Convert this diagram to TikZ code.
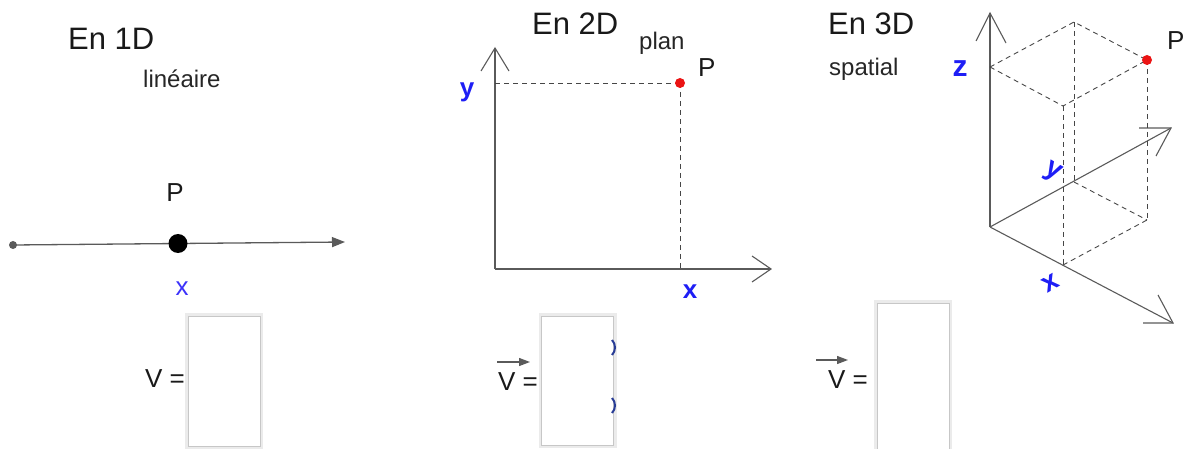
\documentclass[tikz,border=0pt]{standalone}
\usepackage{fontspec}
\setmainfont{Liberation Sans}
\usetikzlibrary{arrows.meta}
\definecolor{axblue}{RGB}{30,30,245}
\definecolor{xblue}{RGB}{60,50,250}
\definecolor{axgray}{RGB}{90,90,90}
\definecolor{dashgray}{RGB}{70,70,70}
\definecolor{pred}{RGB}{235,20,20}
\definecolor{parblue}{RGB}{40,60,150}
\begin{document}
\begin{tikzpicture}[x=1pt,y=-1pt,
  every node/.style={inner sep=0pt},
  title/.style={anchor=base west, font=\fontsize{31}{31}\selectfont, text=black!90},
  subtitle/.style={anchor=base west, font=\fontsize{24}{24}\selectfont, text=black!85},
  plab/.style={anchor=base west, font=\fontsize{26}{26}\selectfont, text=black!90},
  blab/.style={font=\fontsize{26}{26}\selectfont\bfseries, text=axblue},
  axis/.style={draw=axgray, line width=1.1pt},
  head/.style={draw=axgray, line width=1.1pt},
  proj/.style={draw=dashgray, line width=0.9pt, dash pattern=on 5pt off 4pt},
  valbox/.style={draw=black!22, line width=1pt, fill=white, minimum width=72pt,
    preaction={draw=black!8, line width=6pt}},
  vlab/.style={anchor=base east, font=\fontsize{26}{26}\selectfont, text=black!90},
  vec/.style={draw=axgray, line width=1.3pt, -{Triangle[length=11pt,width=8pt]}}
]
\useasboundingbox (0,0) rectangle (1186,449);

% ---------------- 1D ----------------
\node[title] (t1) at (68,50) {En 1D};
\node[subtitle] (s1) at (143,88) {linéaire};
\coordinate (a1) at (13,245);
\coordinate (b1) at (345,242);
\draw[draw=axgray, line width=1.3pt, -{Triangle[length=13pt,width=10pt]}] (a1) -- (b1);
\fill[axgray] (a1) circle (4);
\node[circle, fill=black, minimum size=19pt] (p1) at (178,243.5) {};
\node[plab, anchor=base] (P1) at (175,202) {P};
\node[anchor=base, font=\fontsize{26}{26}\selectfont, text=xblue] (x1) at (182,295) {x};
\node[valbox, minimum height=130pt] (box1) at (224,381) {};
\node[vlab] (v1) at (185,387) {V =};

% ---------------- 2D ----------------
\node[title] (t2) at (532,35) {En 2D};
\node[subtitle] (s2) at (639,50) {plan};
\coordinate (O2) at (495,269);
\coordinate (Y2) at (495,48);
\coordinate (X2) at (771,269);
\draw[axis] (O2) -- (Y2);
\draw[axis] (O2) -- (X2);
\coordinate (Y2a) at (481,71); \coordinate (Y2b) at (509,71);
\coordinate (X2a) at (752,256); \coordinate (X2b) at (752,282);
\draw[head] (Y2a) -- (Y2) -- (Y2b);
\draw[head] (X2a) -- (X2) -- (X2b);
\coordinate (P2) at (680,83);
\coordinate (Py2) at (495,83);
\coordinate (Px2) at (680,269);
\draw[proj] (Py2) -- (P2);
\draw[proj] (P2) -- (Px2);
\node[circle, fill=pred, minimum size=10pt] (pd2) at (P2) {};
\node[plab] (PL2) at (698,77) {P};
\node[blab, anchor=base] (y2) at (467,97) {y};
\node[blab, anchor=base] (x2) at (690,298) {x};
\node[valbox, minimum height=129pt] (box2) at (577.5,380.5) {};
\draw[draw=parblue, line width=2pt] (612,340) .. controls (616,344) and (616,351) .. (612,355);
\draw[draw=parblue, line width=2pt] (612,398) .. controls (616,402) and (616,409) .. (612,413);
\node[vlab] (v2) at (538,390) {V =};
\coordinate (va2) at (497,362); \coordinate (vb2) at (530,362);
\draw[vec] (va2) -- (vb2);

% ---------------- 3D ----------------
\node[title] (t3) at (828,35) {En 3D};
\node[subtitle] (s3) at (829,76) {spatial};
\coordinate (O3) at (990,227);
\coordinate (Z3) at (990,13);
\coordinate (Y3) at (1171,128);
\coordinate (X3) at (1173,323);
\draw[axis] (O3) -- (Z3);
\draw[axis] (O3) -- (Y3);
\draw[axis] (O3) -- (X3);
\coordinate (Z3a) at (976,41); \coordinate (Z3b) at (1006,43);
\coordinate (Y3a) at (1139,128); \coordinate (Y3b) at (1156,156);
\coordinate (X3a) at (1143,323); \coordinate (X3b) at (1158,295);
\draw[head] (Z3a) -- (Z3) -- (Z3b);
\draw[head] (Y3a) -- (Y3) -- (Y3b);
\draw[head] (X3a) -- (X3) -- (X3b);
\coordinate (Zp) at (990,67);
\coordinate (TB) at (1074,22);
\coordinate (P3) at (1147,60);
\coordinate (TF) at (1063,106);
\coordinate (Yp) at (1074,182);
\coordinate (Xp) at (1063,265);
\coordinate (PB) at (1147,220);
\draw[proj] (Zp) -- (TB) -- (P3);
\draw[proj] (Zp) -- (TF) -- (P3);
\draw[proj] (TB) -- (Yp);
\draw[proj] (TF) -- (Xp);
\draw[proj] (P3) -- (PB);
\draw[proj] (Yp) -- (PB);
\draw[proj] (Xp) -- (PB);
\node[circle, fill=pred, minimum size=10pt] (pd3) at (P3) {};
\node[plab] (PL3) at (1167,50) {P};
\node[blab, font=\fontsize{30}{30}\selectfont\bfseries, anchor=base] (z3) at (960,77) {z};
\node[blab, font=\fontsize{28}{28}\selectfont\bfseries, rotate=-30] (y3) at (1052,173) {y};
\node[blab, font=\fontsize{28}{28}\selectfont\bfseries, rotate=30] (x3) at (1051,283) {x};
\node[valbox, minimum height=150pt] (box3) at (913,378) {};
\node[vlab] (v3) at (868,388) {V =};
\coordinate (va3) at (816,360); \coordinate (vb3) at (848,360);
\draw[vec] (va3) -- (vb3);
\end{tikzpicture}
\end{document}
